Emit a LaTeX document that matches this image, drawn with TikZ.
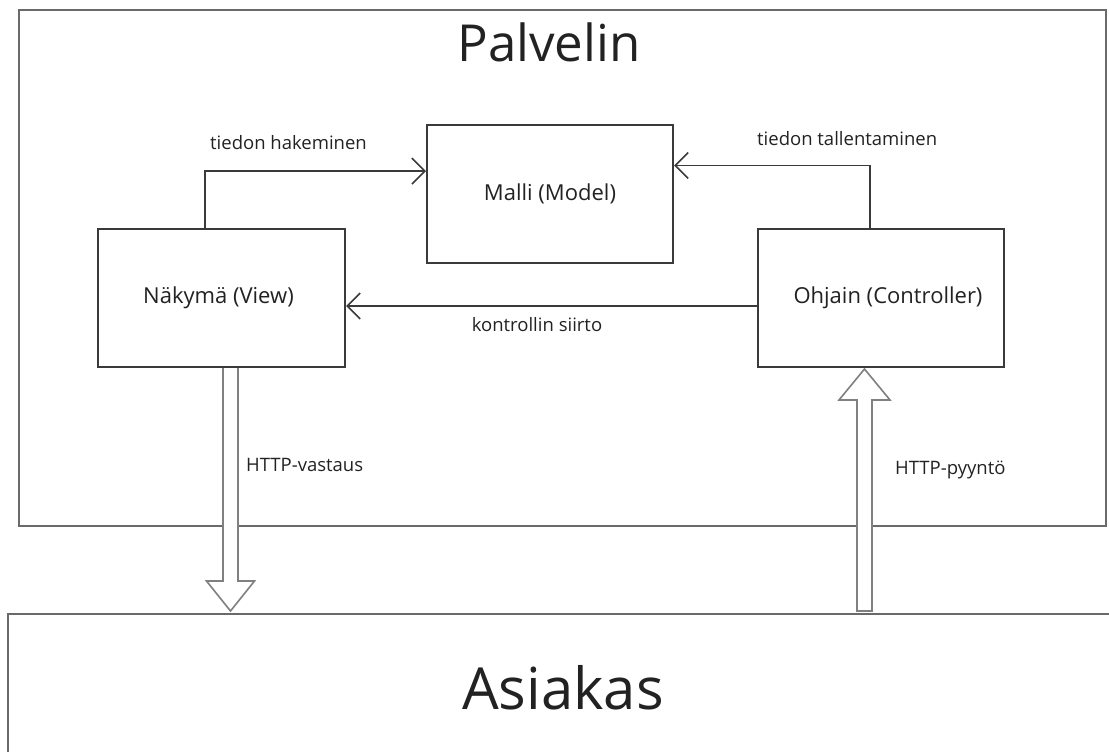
\documentclass[tikz,border=0pt]{standalone}
\usepackage{fontspec}
\setmainfont{Open Sans}
\usetikzlibrary{arrows.meta,calc}
\definecolor{boxline}{HTML}{3A3A3A}
\definecolor{outerline}{HTML}{6A6A6A}
\definecolor{hollowline}{HTML}{808080}
\definecolor{txt}{HTML}{222222}
\begin{document}
\begin{tikzpicture}[x=1pt,y=-1pt,
  comp/.style={draw=boxline,line width=2pt,minimum width=246pt,minimum height=138pt,inner sep=0pt,
    font=\fontsize{22}{26}\selectfont,text=txt},
  outer/.style={draw=outerline,line width=2pt,inner sep=0pt},
  lbl/.style={font=\fontsize{18.5}{22}\selectfont,text=txt,inner sep=0pt},
  title/.style={text=txt,inner sep=0pt},
  conn/.style={draw=boxline,line width=1.6pt,-{Straight Barb[length=13pt,width=26pt,line width=1.6pt]}},
  hollow/.style={draw=hollowline,line width=1.6pt,fill=white,line join=miter}]
\useasboundingbox (0,0) rectangle (1109,752);
\fill[white] (0,0) rectangle (1109,752);
% outer boxes
\node[outer,minimum width=1087pt,minimum height=516pt] (server) at (562.5,268) {};
\draw[draw=outerline,line width=2pt] (8,770) -- (8,614) -- (1130,614);
\coordinate (clienttop) at (8,614);
\node[title,font=\fontsize{51}{60}\selectfont] (servertitle) at (549,42) {Palvelin};
\node[title,font=\fontsize{58}{68}\selectfont] (client) at (563,688) {Asiakas};
% components
\node[comp] (model) at (550,193.5) {Malli (Model)};
\node[comp,minimum width=247pt] (view) at (221.5,298) {Näkymä (View)\hspace*{6pt}};
\node[comp] (ctrl) at (881,298) {\hspace*{14pt}Ohjain (Controller)};
% connectors
\coordinate (vt) at ($(view.north)+(-16.5,0)$);
\coordinate (ct) at ($(ctrl.north)+(-11,0)$);
\draw[conn] (vt) |- ($(model.north west)!0.34!(model.south west)$);
\draw[conn] (ct) |- ($(model.north east)!0.30!(model.south east)$);
\draw[conn] (ctrl.west |- 0,306) -- (view.east |- 0,306);
\node[lbl,anchor=west] (l1) at (210,143) {tiedon hakeminen};
\node[lbl,anchor=west] (l2) at (757,139) {tiedon tallentaminen};
\node[lbl] (l3) at (537,325) {kontrollin siirto};
\node[lbl,anchor=west] (l4) at (246,465) {HTTP-vastaus};
\node[lbl,anchor=west] (l5) at (895,470) {HTTP-pyyntö};
% hollow arrows
\coordinate (dtop) at ($(view.south)+(9,0)$);
\draw[hollow] ($(dtop)+(-7.5,0)$) -- ($(dtop)+(-7.5,213)$) -- ($(dtop)+(-24,213)$) -- ($(dtop)+(0,243)$)
  -- ($(dtop)+(24,213)$) -- ($(dtop)+(7.5,213)$) -- ($(dtop)+(7.5,0)$);
\coordinate (utip) at ($(ctrl.south)+(-16.5,1)$);
\draw[hollow] (utip) -- ($(utip)+(-25.5,31)$) -- ($(utip)+(-7.5,31)$) -- ($(utip)+(-7.5,242)$)
  -- ($(utip)+(7.5,242)$) -- ($(utip)+(7.5,31)$) -- ($(utip)+(25.5,31)$) -- cycle;
\end{tikzpicture}
\end{document}
